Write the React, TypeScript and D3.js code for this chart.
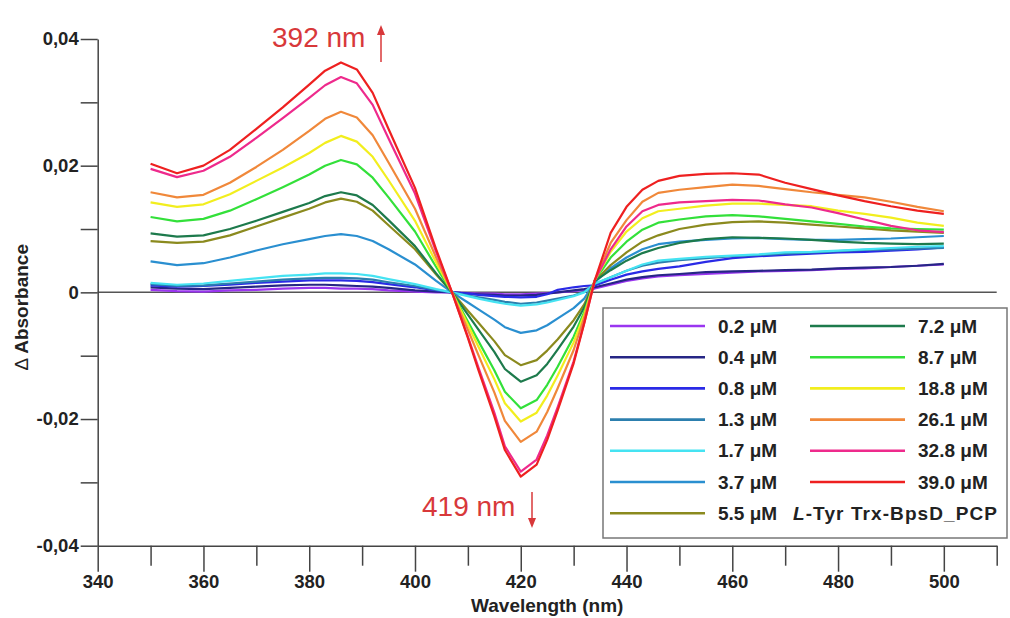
import React, { useEffect, useRef } from 'react';
import * as d3 from 'd3';

// wavelength grid (nm)
const wavelengths = [350, 355, 360, 365, 370, 375, 380, 383, 386, 389, 392, 395, 400, 404, 407, 410, 412, 415, 417, 420, 423, 425, 427, 430, 432, 434, 437, 440, 443, 446, 450, 455, 460, 465, 470, 475, 480, 485, 490, 495, 500];

// delta absorbance per concentration
const c0_2 = [0.0004, 0.0002, 0.0001, 0.0003, 0.0004, 0.0006, 0.0007, 0.0007, 0.0006, 0.0006, 0.0005, 0.0003, 0.0001, 0.0000, 0,
  -0.0001, -0.0002, -0.0002, -0.0003, -0.0003, -0.0002, -0.0001, 0.0000, 0.0002, 0.0004, 0.0006,
  0.0012, 0.0018, 0.0022, 0.0025, 0.0027, 0.0029, 0.0031, 0.0033, 0.0034, 0.0035, 0.0037, 0.0038, 0.0040, 0.0042, 0.0044];
const c0_4 = [0.0008, 0.0006, 0.0005, 0.0007, 0.0009, 0.0011, 0.0012, 0.0012, 0.0011, 0.0010, 0.0009, 0.0007, 0.0003, 0.0001, 0,
  -0.0002, -0.0003, -0.0004, -0.0005, -0.0005, -0.0004, -0.0002, 0.0000, 0.0003, 0.0005, 0.0008,
  0.0014, 0.0020, 0.0024, 0.0027, 0.0029, 0.0032, 0.0033, 0.0034, 0.0035, 0.0036, 0.0038, 0.0039, 0.0040, 0.0042, 0.0045];
const c0_8 = [0.0011, 0.0009, 0.0010, 0.0012, 0.0015, 0.0017, 0.0019, 0.0019, 0.0019, 0.0018, 0.0016, 0.0013, 0.0008, 0.0003, 0,
  -0.0002, -0.0004, -0.0006, -0.0007, -0.0008, -0.0007, -0.0003, 0.0004, 0.0008, 0.0010, 0.0011,
  0.0020, 0.0028, 0.0033, 0.0037, 0.0041, 0.0048, 0.0054, 0.0057, 0.0059, 0.0061, 0.0063, 0.0064, 0.0066, 0.0068, 0.0071];
const c1_3 = [0.0013, 0.0010, 0.0011, 0.0014, 0.0017, 0.0020, 0.0022, 0.0023, 0.0023, 0.0022, 0.0020, 0.0016, 0.0010, 0.0004, 0,
  -0.0005, -0.0008, -0.0012, -0.0015, -0.0018, -0.0016, -0.0013, -0.0010, -0.0005, 0.0001, 0.0013,
  0.0024, 0.0034, 0.0042, 0.0047, 0.0051, 0.0054, 0.0057, 0.0059, 0.0061, 0.0063, 0.0065, 0.0067, 0.0068, 0.0069, 0.0070];
const c1_7 = [0.0015, 0.0012, 0.0014, 0.0018, 0.0022, 0.0026, 0.0028, 0.0030, 0.0030, 0.0029, 0.0026, 0.0021, 0.0013, 0.0005, 0,
  -0.0006, -0.0010, -0.0015, -0.0018, -0.0021, -0.0019, -0.0016, -0.0012, -0.0006, 0.0000, 0.0014,
  0.0024, 0.0034, 0.0044, 0.0050, 0.0053, 0.0056, 0.0058, 0.0060, 0.0063, 0.0064, 0.0066, 0.0068, 0.0070, 0.0072, 0.0073];
const c3_7 = [0.0049, 0.0043, 0.0046, 0.0055, 0.0066, 0.0076, 0.0084, 0.0089, 0.0092, 0.0089, 0.0081, 0.0068, 0.0044, 0.0018, 0,
  -0.0016, -0.0027, -0.0043, -0.0055, -0.0064, -0.0060, -0.0052, -0.0041, -0.0025, -0.0010, 0.0016,
  0.0038, 0.0055, 0.0068, 0.0076, 0.0080, 0.0083, 0.0085, 0.0086, 0.0084, 0.0083, 0.0083, 0.0084, 0.0085, 0.0087, 0.0089];
const c5_5 = [0.0081, 0.0078, 0.0080, 0.0090, 0.0104, 0.0118, 0.0132, 0.0142, 0.0148, 0.0143, 0.0129, 0.0106, 0.0068, 0.0028, 0,
  -0.0029, -0.0048, -0.0077, -0.0099, -0.0115, -0.0107, -0.0092, -0.0074, -0.0044, -0.0019, 0.0018,
  0.0043, 0.0063, 0.0080, 0.0090, 0.0100, 0.0107, 0.0111, 0.0112, 0.0110, 0.0107, 0.0104, 0.0101, 0.0098, 0.0096, 0.0094];
const c7_2 = [0.0093, 0.0088, 0.0090, 0.0100, 0.0113, 0.0127, 0.0141, 0.0152, 0.0158, 0.0153, 0.0138, 0.0114, 0.0073, 0.0030, 0,
  -0.0035, -0.0059, -0.0094, -0.0121, -0.0141, -0.0131, -0.0113, -0.0090, -0.0054, -0.0024, 0.0018,
  0.0035, 0.0050, 0.0062, 0.0070, 0.0078, 0.0084, 0.0087, 0.0086, 0.0085, 0.0083, 0.0080, 0.0078, 0.0077, 0.0076, 0.0077];
const c8_7 = [0.0119, 0.0112, 0.0116, 0.0129, 0.0147, 0.0166, 0.0186, 0.0200, 0.0209, 0.0202, 0.0181, 0.0150, 0.0096, 0.0040, 0,
  -0.0046, -0.0077, -0.0123, -0.0157, -0.0183, -0.0170, -0.0146, -0.0117, -0.0070, -0.0031, 0.0019,
  0.0055, 0.0080, 0.0099, 0.0110, 0.0115, 0.0120, 0.0122, 0.0120, 0.0116, 0.0112, 0.0108, 0.0104, 0.0101, 0.0100, 0.0099];
const c18_8 = [0.0142, 0.0135, 0.0139, 0.0155, 0.0176, 0.0197, 0.0220, 0.0236, 0.0247, 0.0238, 0.0214, 0.0177, 0.0113, 0.0047, 0,
  -0.0051, -0.0086, -0.0137, -0.0175, -0.0204, -0.0190, -0.0163, -0.0131, -0.0079, -0.0035, 0.0019,
  0.0064, 0.0096, 0.0117, 0.0128, 0.0132, 0.0137, 0.0140, 0.0140, 0.0138, 0.0136, 0.0129, 0.0124, 0.0118, 0.0110, 0.0105];
const c26_1 = [0.0158, 0.0150, 0.0154, 0.0173, 0.0198, 0.0225, 0.0255, 0.0274, 0.0285, 0.0276, 0.0248, 0.0205, 0.0132, 0.0055, 0,
  -0.0059, -0.0099, -0.0158, -0.0203, -0.0236, -0.0220, -0.0189, -0.0151, -0.0091, -0.0040, 0.0019,
  0.0078, 0.0114, 0.0143, 0.0157, 0.0162, 0.0166, 0.0170, 0.0168, 0.0163, 0.0158, 0.0154, 0.0150, 0.0143, 0.0135, 0.0128];
const c32_8 = [0.0195, 0.0182, 0.0192, 0.0214, 0.0244, 0.0275, 0.0307, 0.0327, 0.0340, 0.0330, 0.0296, 0.0243, 0.0156, 0.0064, 0,
  -0.0070, -0.0119, -0.0190, -0.0243, -0.0283, -0.0264, -0.0226, -0.0181, -0.0109, -0.0048, 0.0019,
  0.0068, 0.0104, 0.0128, 0.0138, 0.0142, 0.0144, 0.0146, 0.0145, 0.0139, 0.0134, 0.0125, 0.0115, 0.0105, 0.0098, 0.0095];
const c39_0 = [0.0203, 0.0188, 0.0200, 0.0225, 0.0258, 0.0292, 0.0328, 0.0350, 0.0363, 0.0352, 0.0315, 0.0258, 0.0165, 0.0068, 0,
  -0.0072, -0.0123, -0.0196, -0.0249, -0.0291, -0.0272, -0.0233, -0.0186, -0.0112, -0.0049, 0.0019,
  0.0094, 0.0135, 0.0162, 0.0176, 0.0184, 0.0187, 0.0188, 0.0186, 0.0173, 0.0163, 0.0153, 0.0144, 0.0136, 0.0129, 0.0124];

const labels = ['0.2', '0.4', '0.8', '1.3', '1.7', '3.7', '5.5', '7.2', '8.7', '18.8', '26.1', '32.8', '39.0'];
const colors = ['#9a35f0', '#262685', '#2a2ae6', '#2c7fae', '#45e3f2', '#2a8fd0', '#8b8a1e', '#1d7a4c', '#33e03a', '#f2ee1e', '#f0883a', '#ee2a8c', '#ee2020'];
const values = [c0_2, c0_4, c0_8, c1_3, c1_7, c3_7, c5_5, c7_2, c8_7, c18_8, c26_1, c32_8, c39_0];

const xTicks = d3.range(340, 511, 10);
const yTicks = [-0.04, -0.03, -0.02, -0.01, 0, 0.01, 0.02, 0.03, 0.04];

const FONT = '"Liberation Sans", Arial, sans-serif';
const RED = '#d8383a';

export default function App() {
  const xAxisRef = useRef<SVGGElement>(null);
  const yAxisRef = useRef<SVGGElement>(null);

  const x = d3.scaleLinear().domain([340, 510]).range([97.7, 996.7]);
  const y = d3.scaleLinear().domain([-0.04, 0.04]).range([545.7, 39]);

  const line = d3.line<number>()
    .x((d, i) => x(wavelengths[i]))
    .y(d => y(d));

  useEffect(() => {
    const gx = d3.select(xAxisRef.current!);
    gx.call(
      d3.axisBottom(x)
        .tickValues(xTicks)
        .tickSize(26)
        .tickSizeOuter(0)
        .tickFormat(d => (+d % 20 === 0 && +d <= 500 ? String(d) : ''))
    );
    gx.select('.domain').attr('stroke', '#444').attr('stroke-width', 1.5);
    gx.selectAll('.tick line')
      .attr('stroke', '#444')
      .attr('stroke-width', 1.5)
      .attr('y2', (d: any) => (d % 20 === 0 ? 26 : 20));
    gx.selectAll('.tick text')
      .attr('y', 36)
      .attr('dy', '0.35em')
      .attr('fill', '#222')
      .style('font-family', FONT)
      .style('font-weight', 'bold')
      .style('font-size', '18.5px');

    const gy = d3.select(yAxisRef.current!);
    gy.call(
      d3.axisLeft(y)
        .tickValues(yTicks)
        .tickSize(17)
        .tickSizeOuter(0)
        .tickPadding(2)
        .tickFormat(d => {
          const v = Math.round(+d * 100);
          if (v % 2 !== 0) return '';
          return v === 0 ? '0' : (+d).toFixed(2).replace('.', ',');
        })
    );
    gy.select('.domain').attr('stroke', '#444').attr('stroke-width', 1.5);
    gy.selectAll('.tick line').attr('stroke', '#444').attr('stroke-width', 1.5);
    gy.selectAll('.tick text')
      .attr('fill', '#222')
      .style('font-family', FONT)
      .style('font-weight', 'bold')
      .style('font-size', '18.5px');
  }, []);

  const legendRows = 7;
  const rowY = (i: number) => 326 + i * 31.2;

  return (
    <svg width={1010} height={618} style={{ position: 'absolute', left: 0, top: 0, background: '#fff' }}>
      {/* zero line */}
      <line x1={x(340)} x2={x(510)} y1={y(0)} y2={y(0)} stroke="#555" strokeWidth={1.5} />

      {values.map((vals, i) => (
        <path key={labels[i]} d={line(vals) || ''} fill="none" stroke={colors[i]} strokeWidth={2.2} strokeLinejoin="round" />
      ))}

      <g ref={yAxisRef} transform={`translate(${x(340)},0)`} />
      <g ref={xAxisRef} transform={`translate(0,${y(-0.04)})`} />

      <text
        transform={`translate(28,307) rotate(-90)`}
        textAnchor="middle"
        fontFamily={FONT}
        fontSize={19}
        fill="#222"
      >
        <tspan>∆</tspan>
        <tspan fontWeight="bold">  Absorbance</tspan>
      </text>
      <text x={x(425)} y={612} textAnchor="middle" fontFamily={FONT} fontWeight="bold" fontSize={19} fill="#222">
        Wavelength (nm)
      </text>

      {/* annotations */}
      <text x={272} y={47} fontFamily={FONT} fontSize={28} fill={RED}>392 nm</text>
      <line x1={381} x2={381} y1={62} y2={32} stroke={RED} strokeWidth={1.5} />
      <path d="M381,25 L377,35 L385,35 Z" fill={RED} />
      <text x={422} y={516} fontFamily={FONT} fontSize={28} fill={RED}>419 nm</text>
      <line x1={532} x2={532} y1={492} y2={520} stroke={RED} strokeWidth={1.5} />
      <path d="M532,528 L528,518 L536,518 Z" fill={RED} />

      {/* legend */}
      <rect x={603} y={308} width={404} height={230} fill="#fff" stroke="#777" strokeWidth={1.5} />
      {labels.map((lab, i) => {
        const col = i < legendRows ? 0 : 1;
        const row = i < legendRows ? i : i - legendRows;
        const lx = col === 0 ? 610 : 810;
        const yy = rowY(row);
        return (
          <g key={lab}>
            <line x1={lx} x2={lx + 95} y1={yy} y2={yy} stroke={colors[i]} strokeWidth={2.6} />
            <text x={lx + 108} y={yy} dy="0.35em" fontFamily={FONT} fontWeight="bold" fontSize={19} fill="#222">
              {lab} μM
            </text>
          </g>
        );
      })}
      <text x={793} y={rowY(6)} dy="0.35em" fontFamily={FONT} fontWeight="bold" fontSize={19} fill="#222"
        textLength={204} lengthAdjust="spacing">
        <tspan fontStyle="italic">L</tspan>-Tyr Trx-BpsD_PCP
      </text>
    </svg>
  );
}
